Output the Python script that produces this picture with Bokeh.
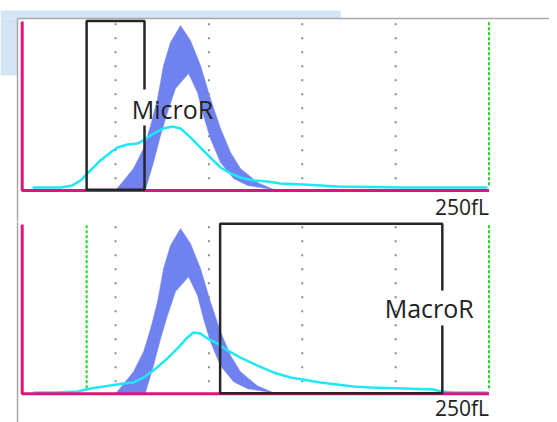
from bokeh.plotting import figure
from bokeh.models import Range1d, Label
from bokeh.layouts import column
from bokeh.embed import file_html
from bokeh.resources import INLINE

# ---------------- data (fL on x, relative count 0-100 on y) ----------------
x_max_fl = 250
grid_fl = [50, 100, 150, 200]
micro_gate = [34.5, 65.5]     # MicroR gate (fL)
macro_gate = [106, 225]       # MacroR gate (fL)
green_top = [250]
green_bottom = [34.5, 250]

# reference band (normal RBC distribution), outer and inner edges
band_outer_fl = [50, 59.6, 65.0, 68.8, 72.5, 75.7, 79.4, 84.8, 90.1, 95.5, 100.8, 106.2, 111.6, 116.9, 126.0, 134.6]
band_outer_val = [0, 13.0, 24.9, 38.5, 54.4, 74.0, 87.6, 97.6, 88.8, 74.0, 54.4, 36.7, 22.5, 13.0, 4.7, 0.6]
band_inner_fl = [66.0, 70.3, 74.1, 77.8, 82.1, 89.1, 93.9, 97.1, 100.8, 106.2, 113.2, 120.7]
band_inner_val = [0.6, 16.6, 32.5, 46.2, 60.4, 69.2, 58.0, 44.4, 30.8, 16.6, 7.1, 3.0]

# patient curve, microcytic sample (top)
micro_fl = [5.5, 20.5, 26.9, 31.2, 35.5, 41.9, 47.3, 51.0, 56.4, 61.7, 65.0, 70.3, 75.7, 80.5, 84.8, 90.1,
            95.5, 100.8, 106.2, 111.6, 116.9, 123.9, 131.4, 138.4, 150.7, 168.9, 204.2, 249.2]
micro_val = [1.8, 1.8, 3.0, 5.9, 10.7, 17.8, 22.5, 25.4, 27.2, 27.8, 29.6, 33.7, 36.7, 37.9, 36.7, 31.4,
             25.4, 19.5, 13.6, 10.1, 7.7, 5.9, 5.3, 4.1, 3.6, 2.4, 1.8, 1.8]

# patient curve, macrocytic sample (bottom)
macro_fl = [6.1, 18.9, 29.6, 36.6, 47.3, 54.3, 59.6, 65.0, 70.3, 77.8, 83.2, 88.5, 91.7, 95.5, 99.2, 104.6,
            109.9, 116.9, 126.0, 134.6, 143.7, 159.8, 177.4, 186.6, 204.2, 220.3, 224.1, 231.1, 249.2]
macro_val = [0.8, 0.8, 1.4, 3.1, 4.9, 6.1, 6.7, 9.6, 13.8, 20.9, 26.8, 33.3, 36.2, 35.6, 32.7, 29.7,
             25.6, 21.4, 16.7, 12.6, 9.6, 6.7, 4.3, 3.7, 3.1, 2.5, 1.4, 0.8, 0.8]

axis_label = "250fL"

PINK = "#e2127b"
CYAN = "#1ee8f5"
BLUE = "#7081f0"
GREEN = "#11dd11"
GRAY = "#8a8a8a"
BLACK = "#262626"
FONT = "Open Sans"

W = 549
X_RANGE = (-11.62, 282.4)


def make_panel(height, y_range, curve_x, curve_y, greens):
    p = figure(width=W, height=height, x_range=Range1d(*X_RANGE), y_range=Range1d(*y_range),
               output_backend="svg", toolbar_location=None, min_border=0,
               background_fill_color="white", border_fill_color="white", outline_line_color=None)
    p.axis.visible = False
    p.grid.visible = False
    # normal band
    p.patch(band_outer_fl + band_inner_fl[::-1], band_outer_val + band_inner_val[::-1],
            fill_color=BLUE, line_color=BLUE, line_width=0.5)
    # gray dotted grid
    for g in grid_fl:
        p.line([g, g], [99, 1], line_color=GRAY, line_width=2, line_dash="2 12")
    for g in greens:
        p.line([g, g], [99.5, 2], line_color=GREEN, line_width=2, line_dash="3 2")
    # patient curve
    p.line(curve_x, curve_y, line_color=CYAN, line_width=2.5)
    # pink axes
    p.line([0, 0, x_max_fl], [100, 0, 0], line_color=PINK, line_width=3)
    return p


# ---------------- top panel ----------------
p1 = make_panel(221, (-18.34, 112.4), micro_fl, micro_val, green_top)
# window frame and background strip
p1.quad(left=[-11.62, -11.62], right=[170.5, -2.5], bottom=[101.8, 68], top=[106.5, 101.8],
        fill_color="#d3e4f4", line_color=None)
p1.line([-2.5, -2.5], [101.8, -18.34], line_color="#a8a8a8", line_width=1.5)
p1.line([-2.5, 282.4], [101.8, 101.8], line_color="#a8a8a8", line_width=1.5)
mx0, mx1 = micro_gate
p1.line([mx1, mx1, mx0, mx0, mx1, mx1], [59.8, 100.2, 100.2, 0.4, 0.4, 38.5],
        line_color=BLACK, line_width=2.5)
p1.add_layout(Label(x=80.5, y=48.5, text="MicroR", text_align="center", text_baseline="middle",
                    text_font=FONT, text_font_size="25px", text_color="#222222"))
p1.add_layout(Label(x=x_max_fl, y=-10.0, text=axis_label, text_align="right", text_baseline="middle",
                    text_font=FONT, text_font_size="21px", text_color="#222222"))

# ---------------- bottom panel ----------------
p2 = make_panel(201, (-16.95, 101.77), macro_fl, macro_val, green_bottom)
p2.line([-2.5, -2.5], [101.77, -16.95], line_color="#a8a8a8", line_width=1.5)
ax0, ax1 = macro_gate
p2.line([ax1, ax1, ax0, ax0, ax1, ax1], [61.0, 100.4, 100.4, 0.3, 0.3, 40.3],
        line_color=BLACK, line_width=2.5)
p2.add_layout(Label(x=218, y=50.4, text="MacroR", text_align="center", text_baseline="middle",
                    text_font=FONT, text_font_size="25px", text_color="#222222"))
p2.add_layout(Label(x=x_max_fl, y=-8.4, text=axis_label, text_align="right", text_baseline="middle",
                    text_font=FONT, text_font_size="21px", text_color="#222222"))

layout = column(p1, p2, spacing=0)
open("out.html", "w").write(file_html(layout, INLINE))
